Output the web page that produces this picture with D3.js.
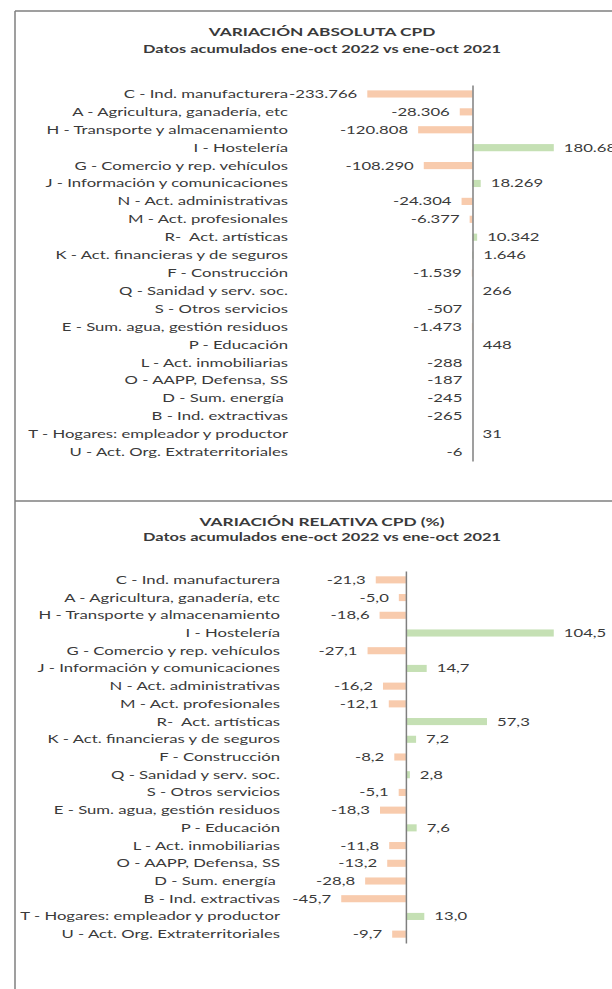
<!DOCTYPE html>
<html><head><meta charset="utf-8">
<script src="https://cdn.jsdelivr.net/npm/d3@7"></script>
<style>
html,body{margin:0;padding:0;background:#fff;}
svg{display:block;}
text{white-space:pre;}
</style></head>
<body>
<script>
const categories = [
  "C - Ind. manufacturera",
  "A - Agricultura, ganadería, etc",
  "H - Transporte y almacenamiento",
  "I - Hostelería",
  "G - Comercio y rep. vehículos",
  "J - Información y comunicaciones",
  "N - Act. administrativas",
  "M - Act. profesionales",
  "R-  Act. artísticas",
  "K - Act. financieras y de seguros",
  "F - Construcción",
  "Q - Sanidad y serv. soc.",
  "S - Otros servicios",
  "E - Sum. agua, gestión residuos",
  "P - Educación",
  "L - Act. inmobiliarias",
  "O - AAPP, Defensa, SS",
  "D - Sum. energía ",
  "B - Ind. extractivas",
  "T - Hogares: empleador y productor",
  "U - Act. Org. Extraterritoriales"
];
const absoluteValues = [-233766, -28306, -120808, 180680, -108290, 18269, -24304, -6377, 10342, 1646, -1539, 266, -507, -1473, 448, -288, -187, -245, -265, 31, -6];
const relativeValues = [-21.3, -5.0, -18.6, 104.5, -27.1, 14.7, -16.2, -12.1, 57.3, 7.2, -8.2, 2.8, -5.1, -18.3, 7.6, -11.8, -13.2, -28.8, -45.7, 13.0, -9.7];
const titles = ["VARIACIÓN ABSOLUTA CPD", "VARIACIÓN RELATIVA CPD (%)"];
const subtitle = "Datos acumulados ene-oct 2022 vs ene-oct 2021";

const W = 612, H = 989;
const FONT = "Lato, 'Open Sans', sans-serif";
const TXT = "#3a3a3a";
const NEG = "#F8CBAD", POS = "#C5E0B4";
const locale = d3.formatLocale({decimal: ",", thousands: ".", grouping: [3], currency: ["", "€"], minus: "-"});
const fmtAbs = locale.format(",d");
const fmtRel = locale.format(",.1f");

const svg = d3.select("body").append("svg").attr("width", W).attr("height", H);

// horizontal stretch so label widths match the reference
const probe = svg.append("text").attr("font-family", FONT).attr("font-size", 11.5).text("T - Hogares: empleador y productor");
const sx = 260 / probe.node().getComputedTextLength();
probe.remove();

function label(g, x, y, str, opts) {
  return g.append("text")
    .attr("transform", `translate(${x},${y}) scale(${sx},1)`)
    .attr("font-family", FONT)
    .attr("font-size", opts.size || 11.5)
    .attr("font-weight", opts.weight || "normal")
    .attr("fill", TXT)
    .attr("text-anchor", opts.anchor || "start")
    .text(str);
}

// frame
const frame = svg.append("g").attr("stroke", "#7f7f7f").attr("stroke-width", 1.5);
frame.append("line").attr("x1", 15).attr("x2", W).attr("y1", 11).attr("y2", 11);
frame.append("line").attr("x1", 15).attr("x2", 15).attr("y1", 11).attr("y2", H);
frame.append("line").attr("x1", 15).attr("x2", W).attr("y1", 501).attr("y2", 501);

function drawChart(cfg) {
  const g = svg.append("g");
  const y = d3.scaleBand().domain(categories).range(cfg.yRange).paddingInner(0.6).paddingOuter(0.3);
  const x = d3.scaleLinear().domain(cfg.xDomain).range(cfg.xRange);
  const data = categories.map((c, i) => ({c, v: cfg.values[i]}));

  label(g, 322, cfg.titleY, cfg.title, {size: 11.9, weight: "bold", anchor: "middle"});
  label(g, 322, cfg.subY, subtitle, {size: 11.3, weight: "bold", anchor: "middle"});

  g.selectAll("rect.bar").data(data).join("rect")
    .attr("class", "bar")
    .attr("x", d => x(Math.min(0, d.v)))
    .attr("width", d => Math.abs(x(d.v) - x(0)))
    .attr("y", d => y(d.c))
    .attr("height", y.bandwidth())
    .attr("fill", d => d.v < 0 ? NEG : POS);

  const axis = g.append("g").attr("transform", `translate(${x(0)},0)`)
    .call(d3.axisLeft(y).tickSize(0).tickFormat(""));
  axis.select(".domain").attr("stroke", "#7f7f7f").attr("stroke-width", 1.5);

  data.forEach(d => {
    const cy = y(d.c) + y.bandwidth() / 2 + 4;
    label(g, cfg.labelX, cy, d.c, {anchor: "end"});
    if (d.v < 0) label(g, x(d.v) - 10, cy, cfg.fmt(d.v), {anchor: "end"});
    else label(g, x(d.v) + 10, cy, cfg.fmt(d.v), {anchor: "start"});
  });
}

drawChart({
  title: titles[0], titleY: 35.7, subY: 53,
  values: absoluteValues, fmt: fmtAbs,
  yRange: [85, 461], xDomain: [-250000, 200000], xRange: [360, 562.5],
  labelX: 288
});
drawChart({
  title: titles[1], titleY: 525.5, subY: 540.5,
  values: relativeValues, fmt: fmtRel,
  yRange: [571, 943], xDomain: [-60, 120], xRange: [321, 575.7],
  labelX: 280
});
</script>
</body></html>
